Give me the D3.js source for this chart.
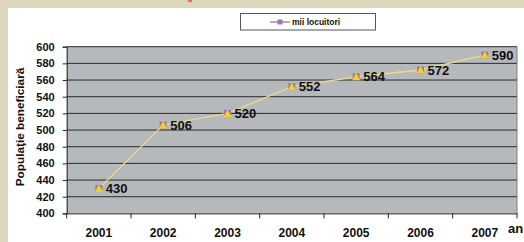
<!DOCTYPE html>
<html><head><meta charset="utf-8">
<script src="https://cdn.jsdelivr.net/npm/d3@7"></script>
<style>html,body{margin:0;padding:0;background:#dcd6bd;overflow:hidden}svg{display:block}</style>
</head><body><svg id="c" width="524" height="242"></svg>
<script>
const years = ["2001","2002","2003","2004","2005","2006","2007"];
const values = [430, 506, 520, 552, 564, 572, 590];
const yTicks = [400,420,440,460,480,500,520,540,560,580,600];
const seriesName = "mii locuitori";
const yTitle = "Populaţie beneficiară";
const xTitle = "an";

const svg = d3.select("#c");
const W = 524, H = 242;
svg.append("rect").attr("width", W).attr("height", H).attr("fill", "#dcd6bd");
svg.append("rect").attr("x", 8).attr("y", 8).attr("width", W - 8).attr("height", H - 8).attr("fill", "#ffffff");
svg.append("rect").attr("x", 188).attr("y", 0).attr("width", 4).attr("height", 2).attr("fill", "#e8705a");

const m = {l: 66.7, t: 46.7, r: 517, b: 213.4};
const x = d3.scaleBand().domain(years).range([m.l, m.r]);
const y = d3.scaleLinear().domain([400, 600]).range([m.b, m.t]);

svg.append("rect").attr("x", m.l).attr("y", m.t).attr("width", m.r - m.l).attr("height", m.b - m.t).attr("fill", "#b5b9bc");

svg.append("g").selectAll("line").data(yTicks.slice(1)).join("line")
  .attr("x1", m.l).attr("x2", m.r).attr("y1", d => y(d)).attr("y2", d => y(d))
  .attr("stroke", "#2a2a2a").attr("stroke-width", 1);
svg.append("line").attr("x1", m.r).attr("x2", m.r).attr("y1", m.t).attr("y2", m.b).attr("stroke", "#808080");

const font = "'Liberation Sans', Arial, sans-serif";
const ya = svg.append("g").attr("transform", `translate(${m.l},0)`)
  .call(d3.axisLeft(y).tickValues(yTicks).tickSize(4).tickPadding(8));
ya.select(".domain").attr("stroke", "#222");
ya.selectAll("line").attr("stroke", "#222");
ya.selectAll("text").attr("font-family", font).attr("font-size", 11).attr("font-weight", "bold").attr("fill", "#111");

const xa = svg.append("g").attr("transform", `translate(0,${m.b})`)
  .call(d3.axisBottom(x).tickSize(0).tickPadding(15));
xa.select(".domain").attr("stroke", "#222");
xa.selectAll("text").attr("font-family", font).attr("font-size", 12).attr("font-weight", "bold").attr("fill", "#111");
const bounds = years.map(d => x(d)).concat([m.r]);
svg.append("g").selectAll("line").data(bounds).join("line")
  .attr("x1", d => d).attr("x2", d => d).attr("y1", m.b).attr("y2", m.b + 5)
  .attr("stroke", "#222");

const cx = d => x(d) + x.bandwidth() / 2;
const line = d3.line().x((d, i) => cx(years[i])).y(d => y(d));
svg.append("path").datum(values).attr("d", line).attr("fill", "none")
  .attr("stroke", "#e9d98a").attr("stroke-width", 1.4);

const pts = svg.append("g").selectAll("g").data(values).join("g")
  .attr("transform", (d, i) => `translate(${cx(years[i])},${y(d)})`);
pts.append("rect").attr("x", -3.5).attr("y", -3.5).attr("width", 7).attr("height", 7).attr("fill", "#9b78b4");
pts.append("path").attr("d", "M0,-4L4,3.5L-4,3.5Z").attr("fill", "#f3d21a");
pts.append("text").attr("x", 7).attr("y", 4.5).text(d => d)
  .attr("font-family", font).attr("font-size", 13).attr("font-weight", "bold").attr("fill", "#111");

svg.append("text").attr("transform", "translate(24,127) rotate(-90)").attr("text-anchor", "middle")
  .attr("font-family", font).attr("font-size", 11.8).attr("font-weight", "bold").attr("fill", "#111").text(yTitle);
svg.append("text").attr("x", 508).attr("y", 232.5)
  .attr("font-family", font).attr("font-size", 13).attr("font-weight", "bold").attr("fill", "#111").text(xTitle);

const lg = svg.append("g");
lg.append("rect").attr("x", 240.5).attr("y", 13.5).attr("width", 135).attr("height", 16.5)
  .attr("fill", "#fff").attr("stroke", "#555");
lg.append("line").attr("x1", 270).attr("x2", 290).attr("y1", 22).attr("y2", 22).attr("stroke", "#9b78b4").attr("stroke-width", 1.3);
lg.append("rect").attr("x", 277.5).attr("y", 19.5).attr("width", 5).attr("height", 5).attr("fill", "#9b78b4");
lg.append("text").attr("x", 292).attr("y", 25).attr("font-family", font).attr("font-size", 8.5)
  .attr("font-weight", "bold").attr("fill", "#111").text(seriesName);
</script></body></html>
